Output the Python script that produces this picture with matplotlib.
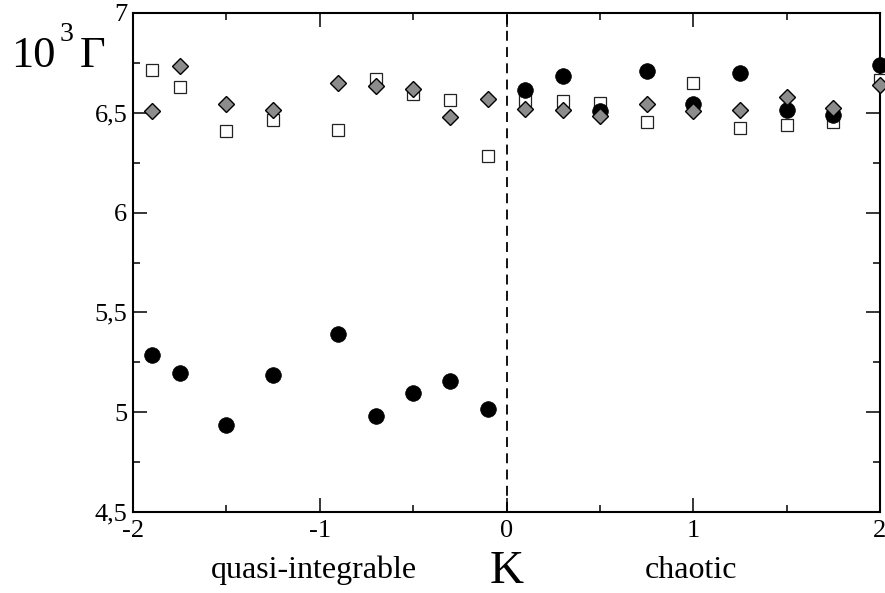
import matplotlib
matplotlib.use("Agg")
import matplotlib.pyplot as plt
from matplotlib.ticker import MultipleLocator, FixedLocator, FixedFormatter

plt.rcParams['font.family'] = ['Liberation Serif', 'DejaVu Serif']

# kicking strength K
K = [-1.9, -1.75, -1.5, -1.25, -0.9, -0.7, -0.5, -0.3, -0.1,
     0.1, 0.3, 0.5, 0.75, 1.0, 1.25, 1.5, 1.75, 2.0]

# decay rate (x 10^3) for the three cases
gamma_circle = [5.289, 5.197, 4.937, 5.187, 5.393, 4.980, 5.095, 5.154, 5.014,
                6.615, 6.682, 6.507, 6.707, 6.542, 6.700, 6.512, 6.491, 6.740]
gamma_square = [6.715, 6.628, 6.411, 6.465, 6.415, 6.670, 6.595, 6.565, 6.286,
                6.562, 6.558, 6.550, 6.453, 6.648, 6.423, 6.440, 6.453, 6.665]
gamma_diamond = [6.508, 6.735, 6.542, 6.515, 6.650, 6.635, 6.620, 6.481, 6.570,
                 6.517, 6.512, 6.486, 6.545, 6.508, 6.512, 6.578, 6.525, 6.637]

y_ticks = [4.5, 5, 5.5, 6, 6.5, 7]
y_labels = ["4,5", "5", "5,5", "6", "6,5", "7"]
x_ticks = [-2, -1, 0, 1, 2]
x_labels = ["-2", "-1", "0", "1", "2"]

fig = plt.figure(figsize=(8.85, 5.93), dpi=100)
ax = fig.add_axes([133/885, 1 - 512/593, (880 - 133)/885, (512 - 13)/593])

ax.axvline(0, color='black', lw=1.3, ls=(0, (5.5, 3.5)), zorder=1)

ax.plot(K, gamma_square, ls='none', marker='s', ms=9.0, mfc='white',
        mec='#222222', mew=0.9, clip_on=False, zorder=3)
ax.plot(K, gamma_circle, ls='none', marker='o', ms=11.3, mfc='black',
        mec='black', mew=0.5, clip_on=False, zorder=4)
ax.plot(K, gamma_diamond, ls='none', marker='D', ms=8.2, mfc='#8c8c8c',
        mec='black', mew=1.0, clip_on=False, zorder=5)

ax.set_xlim(-2, 2)
ax.set_ylim(4.5, 7)
ax.xaxis.set_major_locator(FixedLocator(x_ticks))
ax.xaxis.set_major_formatter(FixedFormatter(x_labels))
ax.yaxis.set_major_locator(FixedLocator(y_ticks))
ax.yaxis.set_major_formatter(FixedFormatter(y_labels))
ax.xaxis.set_minor_locator(MultipleLocator(0.5))
ax.yaxis.set_minor_locator(MultipleLocator(0.25))

ax.tick_params(which='both', direction='in', top=True, right=True,
               width=1.1, labelsize=19)
ax.tick_params(which='major', length=10)
ax.tick_params(which='minor', length=5)
ax.tick_params(axis='x', pad=6)
ax.tick_params(axis='y', pad=4)
for s in ax.spines.values():
    s.set_linewidth(1.5)

# axis annotations
fig.text(314/885, 1 - 570/593, "quasi-integrable", fontsize=23,
         ha='center', va='center')
fig.text(691/885, 1 - 570/593, "chaotic", fontsize=23,
         ha='center', va='center')
fig.text(507/885, 1 - 572/593, "K", fontsize=34, ha='center', va='center')

fig.text(11/885, 1 - 67/593, "10", fontsize=32, ha='left', va='baseline')
fig.text(60/885, 1 - 41/593, "3", fontsize=20, ha='left', va='baseline')
fig.text(80/885, 1 - 67/593, "\u0393", fontsize=32, ha='left', va='baseline')

fig.savefig("out.png", dpi=100)
